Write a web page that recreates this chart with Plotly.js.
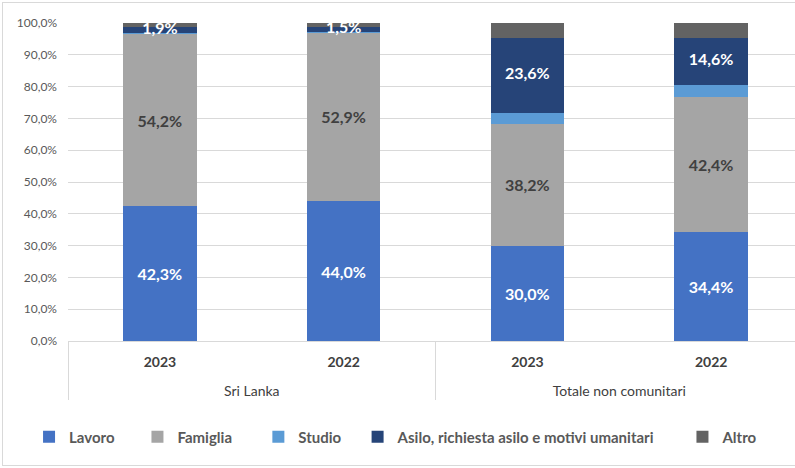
<!DOCTYPE html>
<html>
<head>
<meta charset="utf-8">
<script src="https://cdn.plot.ly/plotly-3.0.1.min.js"></script>
<style>
html,body{margin:0;padding:0;background:#fff;overflow:hidden;}
#wrap{position:relative;width:795px;height:468px;overflow:hidden;}
#chart{position:absolute;left:0;top:0;width:803px;height:468px;}
#border{position:absolute;left:2px;top:2px;width:800px;height:462px;border:1px solid #D9D9D9;pointer-events:none;}
</style>
</head>
<body>
<div id="wrap"><div id="chart"></div><div id="border"></div></div>
<script>
const groups = ["Sri Lanka", "Sri Lanka", "Totale non comunitari", "Totale non comunitari"];
const years = ["2023", "2022", "2023", "2022"];
const seriesNames = ["Lavoro", "Famiglia", "Studio", "Asilo, richiesta asilo e motivi umanitari", "Altro"];
const lavoro = [42.3, 44.0, 30.0, 34.4];
const famiglia = [54.2, 52.9, 38.2, 42.4];
const studio = [0.4, 0.4, 3.5, 3.8];
const asilo = [1.9, 1.5, 23.6, 14.6];
const altro = [1.2, 1.2, 4.7, 4.8];

const FONT = "Lato, 'Liberation Sans', sans-serif";
const colors = ["#4472C4", "#A5A5A5", "#5B9BD5", "#264478", "#636363"];
const labelColors = ["#FFFFFF", "#404040", null, null, null];
const values = [lavoro, famiglia, studio, asilo, altro];
const xcat = [groups.map(g => "<br>" + g), years.map(y => "<b>" + y + "</b>")];
const legendNames = ["legend", "legend2", "legend3", "legend4", "legend5"];

const traces = values.map((v, i) => {
  const t = {
    type: "bar",
    name: seriesNames[i],
    x: xcat,
    y: v,
    marker: {color: colors[i], line: {width: 0}},
    legend: legendNames[i],
    cliponaxis: false,
    hoverinfo: "skip"
  };
  if (labelColors[i]) {
    t.texttemplate = "<b>%{y:.1f}%</b>";
    t.textposition = "inside";
    t.insidetextanchor = "middle";
    t.constraintext = "none";
    t.textangle = 0;
    t.insidetextfont = {family: FONT, size: 16, color: labelColors[i]};
  } else {
    t.textposition = "none";
  }
  return t;
});

// Asilo labels drawn on top of all bars (centre of the Asilo segment)
const asiloMid = asilo.map((a, k) => lavoro[k] + famiglia[k] + studio[k] + a / 2);
traces.push({
  type: "scatter",
  mode: "text",
  x: xcat,
  y: asiloMid,
  customdata: asilo,
  texttemplate: "<b>%{customdata:.1f}%</b>",
  textposition: "middle center",
  textfont: {family: FONT, size: 16, color: "#FFFFFF"},
  cliponaxis: false,
  showlegend: false,
  hoverinfo: "skip"
});

const legendX = [-0.053, 0.0945, 0.259, 0.394, 0.836];
const layout = {
  width: 803, height: 468,
  margin: {l: 68, r: 0, t: 23, b: 127},
  barmode: "stack",
  bargap: 0.6,
  separators: ",.",
  paper_bgcolor: "#fff",
  plot_bgcolor: "#fff",
  font: {family: FONT, color: "#595959"},
  showlegend: true,
  xaxis: {
    type: "multicategory",
    showgrid: false,
    showline: true,
    linecolor: "#D9D9D9",
    linewidth: 1,
    showdividers: true,
    dividercolor: "#D9D9D9",
    dividerwidth: 1,
    ticklabelstandoff: 8,
    tickfont: {family: FONT, size: 14, color: "#404040"},
    ticks: ""
  },
  yaxis: {
    range: [0, 100],
    dtick: 10,
    tickformat: ".1f",
    ticksuffix: "%",
    showgrid: true,
    gridcolor: "#D9D9D9",
    gridwidth: 1,
    zeroline: false,
    showline: false,
    ticklabelstandoff: 10,
    tickfont: {family: FONT, size: 12, color: "#595959"},
    ticks: ""
  }
};
legendNames.forEach((ln, i) => {
  layout[ln] = {
    x: legendX[i], xanchor: "left",
    y: -0.302, yanchor: "middle",
    orientation: "h",
    bgcolor: "rgba(0,0,0,0)",
    font: {family: FONT, size: 15, color: "#595959", weight: "bold"}
  };
});

Plotly.newPlot("chart", traces, layout, {displayModeBar: false, staticPlot: true});
</script>
</body>
</html>
